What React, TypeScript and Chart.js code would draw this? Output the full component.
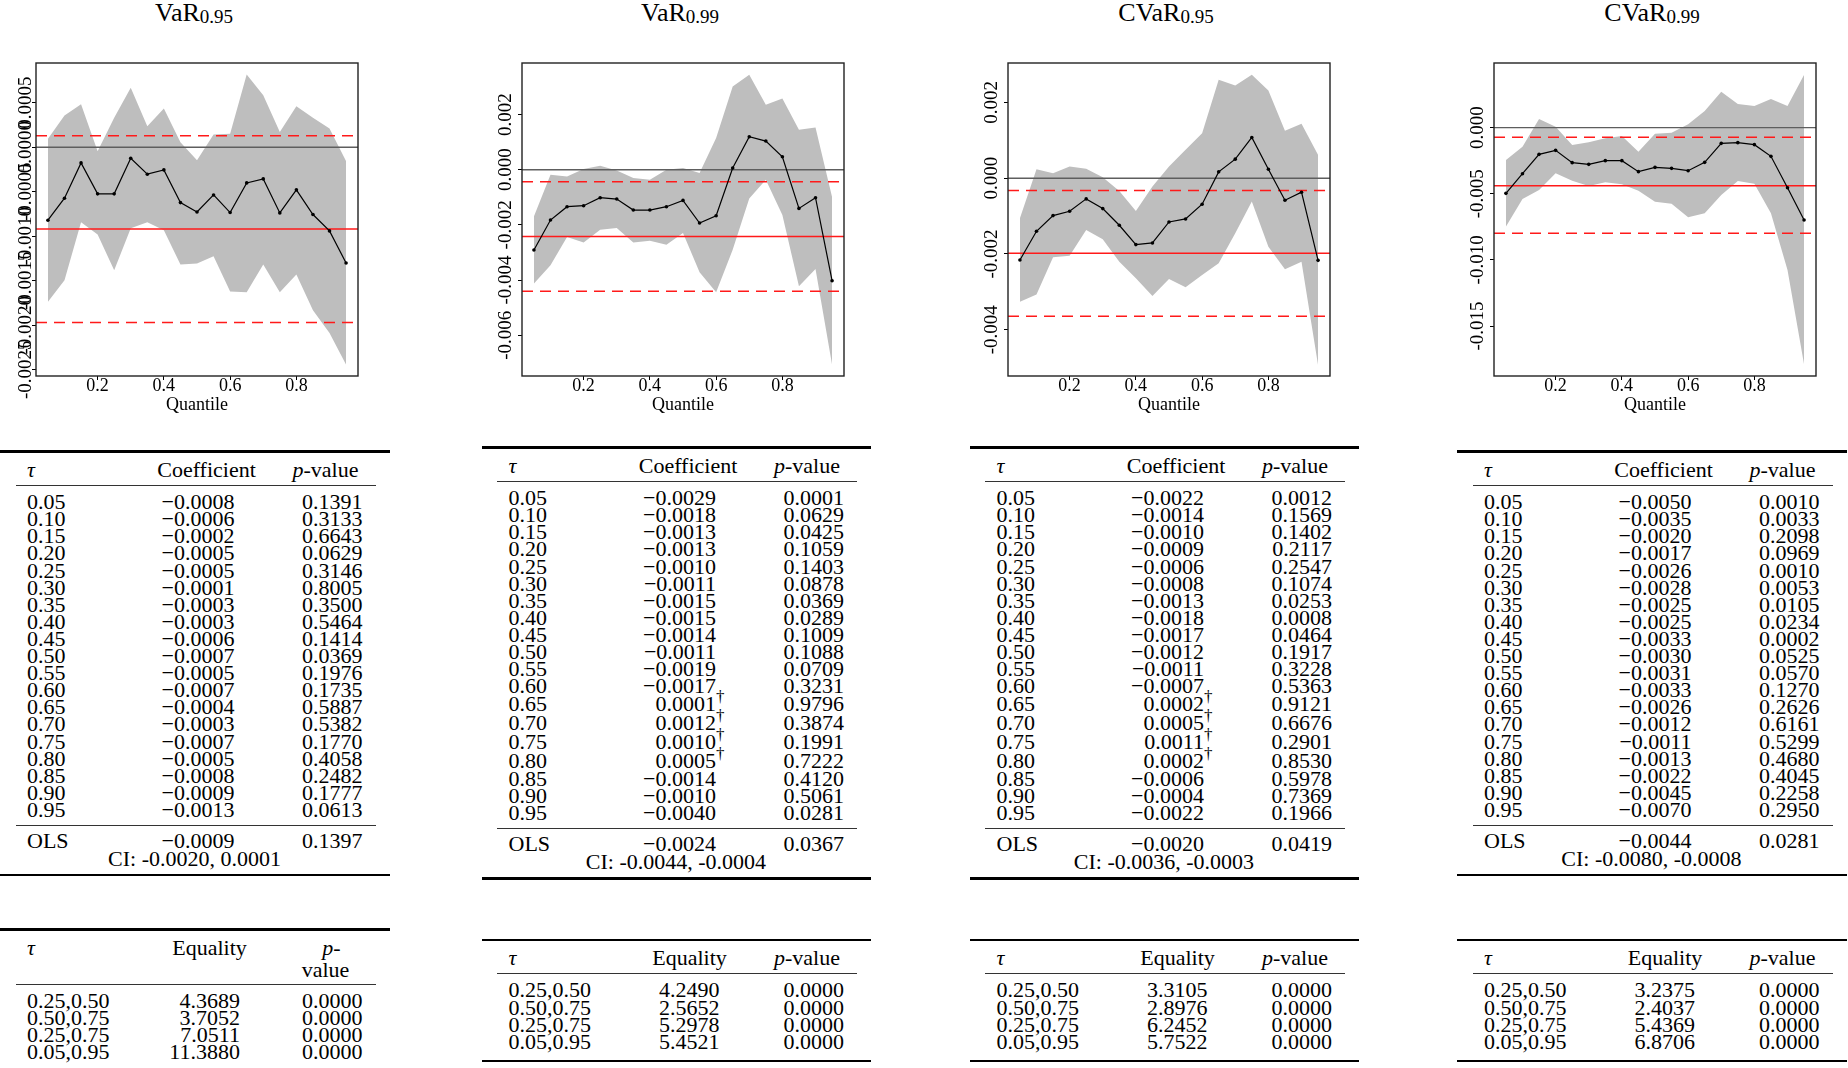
import React, { useEffect, useRef } from 'react';
import { Chart, registerables } from 'chart.js';

Chart.register(...registerables);

const SERIF = "'Liberation Serif', 'Times New Roman', serif";

// ---------- shared axis data ----------
const QUANTILES = [0.05, 0.1, 0.15, 0.2, 0.25, 0.3, 0.35, 0.4, 0.45, 0.5, 0.55, 0.6, 0.65, 0.7, 0.75, 0.8, 0.85, 0.9, 0.95];
const X_TICKS = [0.2, 0.4, 0.6, 0.8];
const X_MIN = 0.014;
const X_MAX = 0.986;

// ---------- panel 1: VaR 0.95 ----------
const LINE_1 = [-0.00082, -0.000573, -0.000176, -0.000524, -0.000524, -0.000124, -0.000303, -0.000255, -0.000622, -0.000727, -0.000536, -0.000734, -0.000401, -0.000356, -0.000738, -0.000479, -0.000756, -0.00094, -0.0013];
const UPPER_1 = [0.000094, 0.000356, 0.000483, -0.000045, 0.00033, 0.000667, 0.000236, 0.000434, 0.000056, -0.000146, 0.000142, 0.00015, 0.000816, 0.000584, 0.000172, 0.000461, 0.00033, 0.00021, -0.000157];
const LOWER_1 = [-0.001738, -0.001494, -0.000843, -0.000981, -0.001382, -0.00091, -0.000843, -0.000933, -0.001318, -0.001307, -0.001225, -0.001622, -0.001629, -0.001318, -0.001629, -0.001431, -0.001831, -0.002086, -0.002442];
const OLS_LINE_1 = -0.00092;
const CI_LINES_1 = [-0.00197, 0.00013];
const Y_TICKS_1 = [0.0005, 0, -0.0005, -0.001, -0.0015, -0.002, -0.0025];

// ---------- panel 2: VaR 0.99 ----------
const LINE_2 = [-0.002912, -0.001825, -0.001341, -0.001305, -0.001015, -0.001063, -0.001462, -0.001462, -0.001341, -0.001112, -0.001934, -0.001668, 0.00006, 0.001196, 0.001039, 0.000471, -0.001402, -0.001015, -0.004024];
const UPPER_2 = [-0.001692, -0.000181, -0.000242, 0.000024, 0.000145, -0.000024, -0.000302, -0.000363, 0, 0.00006, -0.000121, 0.001148, 0.003021, 0.003444, 0.002357, 0.002586, 0.00145, 0.001535, -0.000991];
const LOWER_2 = [-0.004133, -0.003468, -0.002441, -0.002635, -0.002175, -0.002115, -0.002635, -0.002574, -0.002719, -0.002296, -0.003722, -0.004447, -0.0029, -0.001039, -0.000363, -0.001644, -0.00423, -0.003601, -0.00707];
const OLS_LINE_2 = -0.00242;
const CI_LINES_2 = [-0.00441, -0.000435];
const Y_TICKS_2 = [0.002, 0, -0.002, -0.004, -0.006];

// ---------- panel 3: CVaR 0.95 ----------
const LINE_3 = [-0.002159, -0.001401, -0.000987, -0.000872, -0.000546, -0.000802, -0.001242, -0.001753, -0.001709, -0.001154, -0.001075, -0.000687, 0.000167, 0.000502, 0.001075, 0.000238, -0.000582, -0.00037, -0.002168];
const UPPER_3 = [-0.001057, 0.000238, 0.000132, 0.000308, 0.000247, 0.000026, -0.000335, -0.000863, -0.00022, 0.000308, 0.000749, 0.001189, 0.002599, 0.002449, 0.002731, 0.002317, 0.001251, 0.001436, 0.000617];
const LOWER_3 = [-0.00326, -0.003066, -0.002088, -0.002044, -0.001366, -0.001612, -0.002203, -0.002643, -0.00311, -0.002661, -0.002881, -0.002555, -0.002247, -0.001454, -0.000617, -0.001806, -0.002405, -0.002203, -0.004934];
const OLS_LINE_3 = -0.00198;
const CI_LINES_3 = [-0.00364, -0.000326];
const Y_TICKS_3 = [0.002, 0, -0.002, -0.004];

// ---------- panel 4: CVaR 0.99 ----------
const LINE_4 = [-0.004967, -0.00348, -0.002017, -0.001715, -0.002647, -0.002774, -0.002496, -0.002496, -0.003328, -0.003, -0.003076, -0.003253, -0.002622, -0.001185, -0.001135, -0.001286, -0.002168, -0.004539, -0.006984];
const UPPER_4 = [-0.002446, -0.001437, 0.000656, 0.000076, -0.001311, -0.001109, -0.000807, -0.00063, -0.001815, -0.000454, -0.000378, 0.000252, 0.001261, 0.002723, 0.00179, 0.001639, 0.002168, 0.001639, 0.003984];
const LOWER_4 = [-0.007489, -0.005396, -0.004715, -0.003454, -0.004009, -0.004412, -0.004135, -0.004286, -0.004765, -0.005598, -0.005749, -0.006783, -0.00648, -0.005093, -0.004034, -0.004236, -0.00648, -0.010766, -0.017902];
const OLS_LINE_4 = -0.00439;
const CI_LINES_4 = [-0.00799, -0.00073];
const Y_TICKS_4 = [0, -0.005, -0.01, -0.015];

// ---------- tables ----------
const COEF_1 = [-0.0008, -0.0006, -0.0002, -0.0005, -0.0005, -0.0001, -0.0003, -0.0003, -0.0006, -0.0007, -0.0005, -0.0007, -0.0004, -0.0003, -0.0007, -0.0005, -0.0008, -0.0009, -0.0013];
const PVAL_1 = [0.1391, 0.3133, 0.6643, 0.0629, 0.3146, 0.8005, 0.35, 0.5464, 0.1414, 0.0369, 0.1976, 0.1735, 0.5887, 0.5382, 0.177, 0.4058, 0.2482, 0.1777, 0.0613];
const OLS_1 = [-0.0009, 0.1397];
const CI_1 = [-0.002, 0.0001];

const COEF_2 = [-0.0029, -0.0018, -0.0013, -0.0013, -0.001, -0.0011, -0.0015, -0.0015, -0.0014, -0.0011, -0.0019, -0.0017, 0.0001, 0.0012, 0.001, 0.0005, -0.0014, -0.001, -0.004];
const PVAL_2 = [0.0001, 0.0629, 0.0425, 0.1059, 0.1403, 0.0878, 0.0369, 0.0289, 0.1009, 0.1088, 0.0709, 0.3231, 0.9796, 0.3874, 0.1991, 0.7222, 0.412, 0.5061, 0.0281];
const OLS_2 = [-0.0024, 0.0367];
const CI_2 = [-0.0044, -0.0004];

const COEF_3 = [-0.0022, -0.0014, -0.001, -0.0009, -0.0006, -0.0008, -0.0013, -0.0018, -0.0017, -0.0012, -0.0011, -0.0007, 0.0002, 0.0005, 0.0011, 0.0002, -0.0006, -0.0004, -0.0022];
const PVAL_3 = [0.0012, 0.1569, 0.1402, 0.2117, 0.2547, 0.1074, 0.0253, 0.0008, 0.0464, 0.1917, 0.3228, 0.5363, 0.9121, 0.6676, 0.2901, 0.853, 0.5978, 0.7369, 0.1966];
const OLS_3 = [-0.002, 0.0419];
const CI_3 = [-0.0036, -0.0003];

const COEF_4 = [-0.005, -0.0035, -0.002, -0.0017, -0.0026, -0.0028, -0.0025, -0.0025, -0.0033, -0.003, -0.0031, -0.0033, -0.0026, -0.0012, -0.0011, -0.0013, -0.0022, -0.0045, -0.007];
const PVAL_4 = [0.001, 0.0033, 0.2098, 0.0969, 0.001, 0.0053, 0.0105, 0.0234, 0.0002, 0.0525, 0.057, 0.127, 0.2626, 0.6161, 0.5299, 0.468, 0.4045, 0.2258, 0.295];
const OLS_4 = [-0.0044, 0.0281];
const CI_4 = [-0.008, -0.0008];

const DAGGER_ROWS = [0.65, 0.7, 0.75, 0.8];

const EQ_PAIRS = ['0.25,0.50', '0.50,0.75', '0.25,0.75', '0.05,0.95'];
const EQ_1 = [4.3689, 3.7052, 7.0511, 11.388];
const EQ_2 = [4.249, 2.5652, 5.2978, 5.4521];
const EQ_3 = [3.3105, 2.8976, 6.2452, 5.7522];
const EQ_4 = [3.2375, 2.4037, 5.4369, 6.8706];
const EQ_P_1 = [0, 0, 0, 0];
const EQ_P_2 = [0, 0, 0, 0];
const EQ_P_3 = [0, 0, 0, 0];
const EQ_P_4 = [0, 0, 0, 0];

// ---------- layout ----------
const PLOT_TOP = 63;
const PLOT_W = 322;
const PLOT_H = 313;
const AXIS_W = 36;
const PAD_TOP = 8;
const PAD_RIGHT = 8;
const XAXIS_H = 40;
const LH = 17.1;

type PanelCfg = {
  title: string; sub: string; plotLeft: number;
  line: number[]; upper: number[]; lower: number[];
  ols: number; ci: number[]; yMin: number; yMax: number;
  yTicks: number[]; yDec: number; labelGap: number;
};

const PANELS: PanelCfg[] = [
  { title: 'VaR', sub: '0.95', plotLeft: 36, line: LINE_1, upper: UPPER_1, lower: LOWER_1, ols: OLS_LINE_1, ci: CI_LINES_1, yMin: -0.00257, yMax: 0.000946, yTicks: Y_TICKS_1, yDec: 4, labelGap: 9.5 },
  { title: 'VaR', sub: '0.99', plotLeft: 522, line: LINE_2, upper: UPPER_2, lower: LOWER_2, ols: OLS_LINE_2, ci: CI_LINES_2, yMin: -0.00748, yMax: 0.00387, yTicks: Y_TICKS_2, yDec: 3, labelGap: 15.5 },
  { title: 'CVaR', sub: '0.95', plotLeft: 1008, line: LINE_3, upper: UPPER_3, lower: LOWER_3, ols: OLS_LINE_3, ci: CI_LINES_3, yMin: -0.00522, yMax: 0.00304, yTicks: Y_TICKS_3, yDec: 3, labelGap: 15.5 },
  { title: 'CVaR', sub: '0.99', plotLeft: 1494, line: LINE_4, upper: UPPER_4, lower: LOWER_4, ols: OLS_LINE_4, ci: CI_LINES_4, yMin: -0.01878, yMax: 0.00489, yTicks: Y_TICKS_4, yDec: 3, labelGap: 15.5 },
];

function PlotPanel({ p }: { p: PanelCfg }) {
  const ref = useRef<HTMLCanvasElement>(null);
  const cw = AXIS_W + PLOT_W + PAD_RIGHT;
  const ch = PAD_TOP + PLOT_H + XAXIS_H;
  useEffect(() => {
    if (!ref.current) return;
    const pts = (ys: number[]) => QUANTILES.map((x, i) => ({ x, y: ys[i] }));
    const hline = (v: number) => [{ x: X_MIN, y: v }, { x: X_MAX, y: v }];
    const flat = { pointRadius: 0, fill: false, tension: 0 };
    const frame = {
      id: 'frame',
      afterDraw(chart: any) {
        const c = chart.ctx;
        const a = chart.chartArea;
        const ys = chart.scales.y;
        c.save();
        c.strokeStyle = '#222';
        c.lineWidth = 1.4;
        c.strokeRect(a.left, a.top, a.right - a.left, a.bottom - a.top);
        c.fillStyle = '#000';
        c.font = `19px ${SERIF}`;
        c.textAlign = 'center';
        c.textBaseline = 'middle';
        for (const v of p.yTicks) {
          const y = ys.getPixelForValue(v);
          c.save();
          c.translate(a.left - p.labelGap, y);
          c.rotate(-Math.PI / 2);
          c.fillText(v.toFixed(p.yDec), 0, 0);
          c.restore();
        }
        c.restore();
      },
    };
    const chart = new Chart(ref.current, {
      type: 'line',
      data: {
        datasets: [
          { data: pts(p.line), borderColor: '#000', borderWidth: 1.2, pointRadius: 1.8, pointBackgroundColor: '#000', pointBorderWidth: 0, fill: false, tension: 0 },
          { data: hline(p.ols), borderColor: '#ff1a1a', borderWidth: 1.5, ...flat },
          { data: hline(p.ci[0]), borderColor: '#ff1a1a', borderWidth: 1.5, borderDash: [11, 7], ...flat },
          { data: hline(p.ci[1]), borderColor: '#ff1a1a', borderWidth: 1.5, borderDash: [11, 7], ...flat },
          { data: hline(0), borderColor: '#5e5e5e', borderWidth: 1.4, ...flat },
          { data: pts(p.upper), borderColor: 'rgba(0,0,0,0)', borderWidth: 0, backgroundColor: '#bebebe', pointRadius: 0, fill: 6, tension: 0 },
          { data: pts(p.lower), borderColor: 'rgba(0,0,0,0)', borderWidth: 0, pointRadius: 0, fill: false, tension: 0 },
        ],
      } as any,
      options: {
        animation: false,
        responsive: false,
        maintainAspectRatio: false,
        events: [],
        layout: { padding: { top: PAD_TOP, right: PAD_RIGHT, left: 0, bottom: 0 } },
        plugins: { legend: { display: false }, tooltip: { enabled: false }, title: { display: false } },
        scales: {
          x: {
            type: 'linear', min: X_MIN, max: X_MAX,
            afterBuildTicks: (s: any) => { s.ticks = X_TICKS.map((v) => ({ value: v })); },
            afterFit: (s: any) => { s.height = XAXIS_H; },
            ticks: { callback: (v: any) => Number(v).toFixed(1), font: { family: SERIF, size: 18, lineHeight: 0.75 }, color: '#000', padding: 0, maxRotation: 0, minRotation: 0, autoSkip: false },
            grid: { display: true, drawOnChartArea: false, drawTicks: true, tickLength: 4, color: '#000', lineWidth: 1 },
            border: { display: false },
            title: { display: true, text: 'Quantile', color: '#000', font: { family: SERIF, size: 18, lineHeight: 1 }, padding: { top: 0, bottom: 2 } },
          },
          y: {
            type: 'linear', min: p.yMin, max: p.yMax,
            afterBuildTicks: (s: any) => { s.ticks = p.yTicks.map((v) => ({ value: v })); },
            afterFit: (s: any) => { s.width = AXIS_W; },
            ticks: { display: false },
            grid: { display: true, drawOnChartArea: false, drawTicks: true, tickLength: 4, color: '#000', lineWidth: 1 },
            border: { display: false },
          },
        },
      } as any,
      plugins: [frame],
    });
    return () => chart.destroy();
  }, [p]);
  return (
    <canvas
      ref={ref}
      width={cw}
      height={ch}
      style={{ position: 'absolute', left: p.plotLeft - AXIS_W, top: PLOT_TOP - PAD_TOP, width: cw, height: ch }}
    />
  );
}

function Title({ p }: { p: PanelCfg }) {
  const cx = p.plotLeft + PLOT_W / 2 - 3;
  return (
    <div style={{ position: 'absolute', left: cx - 150, width: 300, top: -0.5, height: 26, lineHeight: '26px', fontSize: 26, textAlign: 'center', whiteSpace: 'nowrap' }}>
      {p.title}
      <span style={{ fontSize: 19, position: 'relative', top: 2 }}>{p.sub}</span>
    </div>
  );
}

function Txt({ x, y, align = 'left', children, italic = false }: { x: number; y: number; align?: 'left' | 'right' | 'center'; children: any; italic?: boolean }) {
  const w = 400;
  const left = align === 'left' ? x : align === 'right' ? x - w : x - w / 2;
  return (
    <div style={{ position: 'absolute', left, top: y - LH / 2, width: w, height: LH, lineHeight: LH + 'px', fontSize: 22, textAlign: align, whiteSpace: 'nowrap', fontStyle: italic ? 'italic' : 'normal' }}>
      {children}
    </div>
  );
}

function Rule({ x1, x2, y, thick }: { x1: number; x2: number; y: number; thick: boolean }) {
  const th = thick ? 2.6 : 1.1;
  return <div style={{ position: 'absolute', left: x1, width: x2 - x1, top: y - th / 2, height: th, background: thick ? '#000' : '#333' }} />;
}

const fmt4 = (v: number) => (v < 0 ? '\u2212' : '') + Math.abs(v).toFixed(4);

function CoefTable({ left, c0, coef, pval, dagger, ols, ci }: { left: number; c0: number; coef: number[]; pval: number[]; dagger: number[]; ols: number[]; ci: number[] }) {
  const heights = QUANTILES.map((q) => (dagger.includes(q) ? 18.9 : 17.1));
  const centers: number[] = [];
  let c = c0;
  heights.forEach((h, i) => { if (i > 0) c += (heights[i - 1] + h) / 2; centers.push(c); });
  const cl = centers[centers.length - 1];
  return (
    <>
      <Rule x1={left - 0.5} x2={left + 389} y={c0 - 50} thick />
      <Txt x={left + 26.5} y={c0 - 32.5} italic>τ</Txt>
      <Txt x={left + 206} y={c0 - 32.5} align="center">Coefficient</Txt>
      <Txt x={left + 325} y={c0 - 32.5} align="center"><i>p</i>-value</Txt>
      <Rule x1={left + 15} x2={left + 375} y={c0 - 16} thick={false} />
      {QUANTILES.map((q, i) => (
        <React.Fragment key={q}>
          <Txt x={left + 26.5} y={centers[i]}>{q.toFixed(2)}</Txt>
          <Txt x={left + 234} y={centers[i]} align="right">
            <span style={{ position: 'relative' }}>
              {fmt4(coef[i])}
              {dagger.includes(q) && <span style={{ position: 'absolute', left: '100%', top: -3, fontSize: 17, color: '#000' }}>†</span>}
            </span>
          </Txt>
          <Txt x={left + 362} y={centers[i]} align="right">{pval[i].toFixed(4)}</Txt>
        </React.Fragment>
      ))}
      <Rule x1={left + 15} x2={left + 375} y={cl + 15.6} thick={false} />
      <Txt x={left + 26.5} y={cl + 30.7}>OLS</Txt>
      <Txt x={left + 234} y={cl + 30.7} align="right">{fmt4(ols[0])}</Txt>
      <Txt x={left + 362} y={cl + 30.7} align="right">{ols[1].toFixed(4)}</Txt>
      <Txt x={left + 194} y={cl + 48.7} align="center">{`CI: ${ci[0].toFixed(4)}, ${ci[1].toFixed(4)}`}</Txt>
      <Rule x1={left - 0.5} x2={left + 389} y={cl + 65.7} thick />
    </>
  );
}

function EqTable({ left, e0, eq, pv, twoLine, eqRight, eqHead }: { left: number; e0: number; eq: number[]; pv: number[]; twoLine: boolean; eqRight: number; eqHead: number }) {
  const step = 17.1;
  const hy = twoLine ? e0 - 52.8 : e0 - 32.3;
  const top = twoLine ? e0 - 71.2 : e0 - 50;
  const last = e0 + step * (EQ_PAIRS.length - 1);
  return (
    <>
      <Rule x1={left - 0.5} x2={left + 389} y={top} thick />
      <Txt x={left + 26.5} y={hy} italic>τ</Txt>
      <Txt x={left + eqHead} y={hy} align="center">Equality</Txt>
      {twoLine ? (
        <>
          <Txt x={left + 331} y={hy} align="center"><i>p</i>-</Txt>
          <Txt x={left + 325} y={e0 - 31} align="center">value</Txt>
        </>
      ) : (
        <Txt x={left + 325} y={hy} align="center"><i>p</i>-value</Txt>
      )}
      <Rule x1={left + 15} x2={left + 375} y={e0 - 16.3} thick={false} />
      {EQ_PAIRS.map((lab, i) => (
        <React.Fragment key={lab}>
          <Txt x={left + 26.5} y={e0 + step * i}>{lab}</Txt>
          <Txt x={left + eqRight} y={e0 + step * i} align="right">{eq[i].toFixed(4)}</Txt>
          <Txt x={left + 362} y={e0 + step * i} align="right">{pv[i].toFixed(4)}</Txt>
        </React.Fragment>
      ))}
      <Rule x1={left - 0.5} x2={left + 389} y={last + 19.5} thick />
    </>
  );
}

const TABLE_LEFT = [0.5, 482, 970, 1457.5];

export default function App() {
  return (
    <div style={{ position: 'absolute', left: 0, top: 0, width: 1848, height: 1068, overflow: 'hidden', background: '#fff', color: '#000', fontFamily: SERIF }}>
      {PANELS.map((p, i) => (
        <React.Fragment key={i}>
          <Title p={p} />
          <PlotPanel p={p} />
        </React.Fragment>
      ))}
      <CoefTable left={TABLE_LEFT[0]} c0={501.7} coef={COEF_1} pval={PVAL_1} dagger={[]} ols={OLS_1} ci={CI_1} />
      <CoefTable left={TABLE_LEFT[1]} c0={497.7} coef={COEF_2} pval={PVAL_2} dagger={DAGGER_ROWS} ols={OLS_2} ci={CI_2} />
      <CoefTable left={TABLE_LEFT[2]} c0={497.7} coef={COEF_3} pval={PVAL_3} dagger={DAGGER_ROWS} ols={OLS_3} ci={CI_3} />
      <CoefTable left={TABLE_LEFT[3]} c0={501.7} coef={COEF_4} pval={PVAL_4} dagger={[]} ols={OLS_4} ci={CI_4} />
      <EqTable left={TABLE_LEFT[0]} e0={1000.5} eq={EQ_1} pv={EQ_P_1} twoLine eqRight={239.5} eqHead={209} />
      <EqTable left={TABLE_LEFT[1]} e0={990} eq={EQ_2} pv={EQ_P_2} twoLine={false} eqRight={237.5} eqHead={207.5} />
      <EqTable left={TABLE_LEFT[2]} e0={990} eq={EQ_3} pv={EQ_P_3} twoLine={false} eqRight={237.5} eqHead={207.5} />
      <EqTable left={TABLE_LEFT[3]} e0={990} eq={EQ_4} pv={EQ_P_4} twoLine={false} eqRight={237.5} eqHead={207.5} />
    </div>
  );
}
